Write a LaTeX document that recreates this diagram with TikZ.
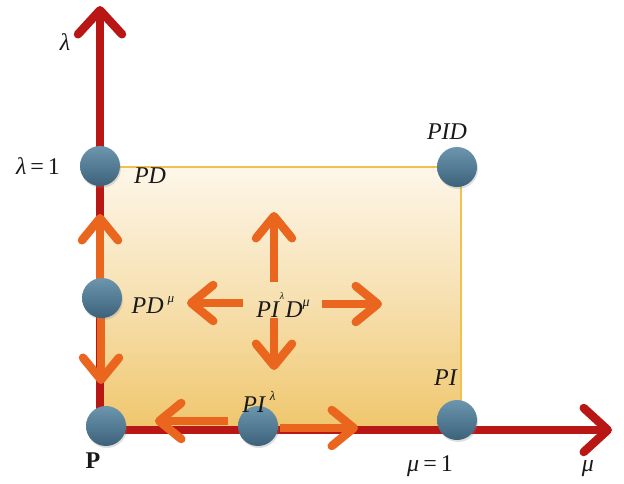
\documentclass[tikz,border=0pt]{standalone}
\usepackage{fontspec}
\setmainfont{Liberation Serif}
\usetikzlibrary{arrows.meta,shadows}
\definecolor{axisred}{RGB}{185,22,22}
\definecolor{arrorange}{RGB}{234,102,30}
\definecolor{balltop}{RGB}{108,150,174}
\definecolor{ballbot}{RGB}{60,98,122}
\definecolor{filltop}{RGB}{253,246,233}
\definecolor{fillbot}{RGB}{239,198,108}
\definecolor{rectedge}{RGB}{242,192,80}
\definecolor{labtext}{RGB}{25,25,25}
\tikzset{
  axisline/.style={line width=8pt, draw=axisred, line join=round,
    {Straight Barb[length=24pt,width=44pt,line width=8.5pt,round]}-{Straight Barb[length=24pt,width=44pt,line width=8.5pt,round]}},
  move/.style={line width=8pt, draw=arrorange, -{Straight Barb[length=22pt,width=36pt,line width=8.5pt,round]}},
  ball/.style={circle, minimum size=40pt, inner sep=0pt, draw=none,
    top color=balltop, bottom color=ballbot,
    drop shadow={opacity=0.25, shadow xshift=1pt, shadow yshift=-2pt}},
  lab/.style={font=\fontsize{24}{28}\selectfont, text=labtext, inner sep=0pt}
}
\begin{document}
\begin{tikzpicture}[x=1pt,y=-1pt]
\useasboundingbox (0,0) rectangle (624,483);
% region
\coordinate (O) at (100,430);
\shade[top color=filltop, bottom color=fillbot, middle color=filltop!55!fillbot] (100,167) rectangle (461,430);
\draw[rectedge, line width=1.3pt] (100,167) rectangle (461,430);
% axes
\coordinate (ytip) at (100,6);
\coordinate (xtip) at (612,430);
\draw[axisline] (ytip) -- (O) -- (xtip);
% move arrows
\coordinate (cu0) at (274,282); \coordinate (cu1) at (274,212);
\coordinate (cd0) at (274,318); \coordinate (cd1) at (274,370);
\coordinate (cl0) at (243,303); \coordinate (cl1) at (187,303);
\coordinate (cr0) at (322,304); \coordinate (cr1) at (382,304);
\coordinate (lu0) at (100,285); \coordinate (lu1) at (100,214);
\coordinate (ld0) at (101,315); \coordinate (ld1) at (101,384);
\coordinate (bl0) at (228,421); \coordinate (bl1) at (155,421);
\coordinate (br0) at (280,428); \coordinate (br1) at (358,428);
\foreach \a in {cu,cd,cl,cr,lu,ld,bl,br}{\draw[move] (\a0) -- (\a1);}
% balls
\node[ball] (bPD)  at (100,166) {};
\node[ball] (bPID) at (457,167) {};
\node[ball] (bPDm) at (102,298) {};
\node[ball] (bP)   at (106,426) {};
\node[ball] (bPIl) at (258,426) {};
\node[ball] (bPI)  at (457,420) {};
% labels
\node[lab] (tlam)  at (65,42)  {\textit{λ}};
\node[lab] (tlam1) at (38,166) {\textit{λ}\,=\,1};
\node[lab] (tPD)   at (150,176) {\textit{PD}};
\node[lab] (tPID)  at (447,132) {\textit{PID}};
\node[lab] (tPDm)  at (153,305) {\textit{PD}\,\raisebox{0.45em}{\fontsize{13}{13}\selectfont\textit{μ}}};
\node[lab] (tPIDm) at (283,305) {\textit{PI}\raisebox{0.75em}{\fontsize{10}{10}\selectfont\textit{λ}}\kern1pt\textit{D}\raisebox{0.45em}{\fontsize{14}{14}\selectfont\textit{μ}}};
\node[lab] (tPIl)  at (259,402) {\textit{PI}\,\raisebox{0.5em}{\fontsize{13}{13}\selectfont\textit{λ}}};
\node[lab] (tPI)   at (446,378) {\textit{PI}};
\node[lab] (tP)    at (93,461) {\textbf{P}};
\node[lab] (tmu1)  at (430,466) {\textit{μ}\,=\,1};
\node[lab] (tmu)   at (588,469) {\textit{μ}};
\end{tikzpicture}
\end{document}
